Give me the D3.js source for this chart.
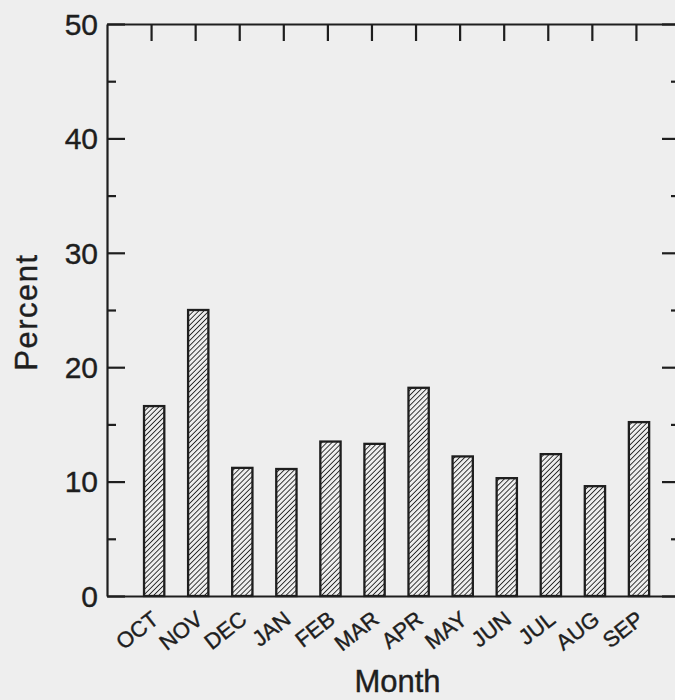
<!DOCTYPE html>
<html>
<head>
<meta charset="utf-8">
<script src="https://cdn.jsdelivr.net/npm/d3@7"></script>
<style>
  html, body { margin: 0; padding: 0; background: #eeeeee; }
  svg { display: block; }
  text { font-family: "Liberation Sans", Arial, Helvetica, sans-serif; fill: #1e1e1e; stroke: #1e1e1e; stroke-width: 0.4; }
</style>
</head>
<body>
<svg id="chart" width="675" height="700"></svg>
<script>
// Monthly share of the annual total, water-year order
const months = ["OCT", "NOV", "DEC", "JAN", "FEB", "MAR", "APR", "MAY", "JUN", "JUL", "AUG", "SEP"];
const percent = [16.6, 25.0, 11.2, 11.1, 13.5, 13.3, 18.2, 12.2, 10.3, 12.4, 9.6, 15.2];
const yMajorTicks = [0, 10, 20, 30, 40, 50];
const yMinorTicks = [5, 15, 25, 35, 45];

const svg = d3.select("#chart");
const ink = "#1e1e1e";

const plot = { left: 107, right: 680, top: 24, bottom: 596 };

// months are placed at positions 1..12 on a numeric axis
const x = d3.scaleLinear().domain([0, 13]).range([plot.left, plot.right]);
const y = d3.scaleLinear().domain([0, 50]).range([plot.bottom, plot.top]);
const barOffset = 0.07, barWidth = 0.46;

// diagonal hatch fill for the bars
const defs = svg.append("defs");
const pat = defs.append("pattern")
  .attr("id", "hatch")
  .attr("patternUnits", "userSpaceOnUse")
  .attr("width", 3.6).attr("height", 3.6)
  .attr("patternTransform", "rotate(45)");
pat.append("rect").attr("width", 3.6).attr("height", 3.6).attr("fill", "#eeeeee");
pat.append("line")
  .attr("x1", 0).attr("y1", 0).attr("x2", 0).attr("y2", 3.6)
  .attr("stroke", "#262626").attr("stroke-width", 1.8);

// bars
svg.append("g").selectAll("rect")
  .data(percent)
  .join("rect")
  .attr("x", (d, i) => x(i + 1 + barOffset - barWidth / 2))
  .attr("y", d => y(d))
  .attr("width", x(barWidth) - x(0))
  .attr("height", d => y(0) - y(d))
  .attr("fill", "url(#hatch)")
  .attr("stroke", ink)
  .attr("stroke-width", 2.3);

// frame axes: ticks point inward on every side
function styleAxis(g) {
  g.selectAll("path.domain").attr("stroke", ink).attr("stroke-width", 2.2);
  g.selectAll(".tick line").attr("stroke", ink).attr("stroke-width", 2.2);
}

const monthIdx = d3.range(1, 13);

// left axis with labels
const gLeft = svg.append("g").attr("transform", `translate(${plot.left},0)`)
  .call(d3.axisRight(y).tickValues(yMajorTicks).tickSize(18).tickSizeOuter(0).tickFormat(""));
styleAxis(gLeft);
const gLeftMinor = svg.append("g").attr("transform", `translate(${plot.left},0)`)
  .call(d3.axisRight(y).tickValues(yMinorTicks).tickSize(9).tickSizeOuter(0).tickFormat(""));
styleAxis(gLeftMinor);
gLeftMinor.select("path.domain").remove();

svg.append("g").selectAll("text")
  .data(yMajorTicks)
  .join("text")
  .attr("x", plot.left - 9)
  .attr("y", d => y(d))
  .attr("dy", "0.36em")
  .attr("text-anchor", "end")
  .attr("font-size", 30)
  .text(d => d);

// right axis
const gRight = svg.append("g").attr("transform", `translate(${plot.right},0)`)
  .call(d3.axisLeft(y).tickValues(yMajorTicks).tickSize(18).tickSizeOuter(0).tickFormat(""));
styleAxis(gRight);
const gRightMinor = svg.append("g").attr("transform", `translate(${plot.right},0)`)
  .call(d3.axisLeft(y).tickValues(yMinorTicks).tickSize(9).tickSizeOuter(0).tickFormat(""));
styleAxis(gRightMinor);
gRightMinor.select("path.domain").remove();

// top axis
const gTop = svg.append("g").attr("transform", `translate(0,${plot.top})`)
  .call(d3.axisBottom(x).tickValues(monthIdx).tickSize(17).tickSizeOuter(0).tickFormat(""));
styleAxis(gTop);

// bottom axis line
const gBottom = svg.append("g").attr("transform", `translate(0,${plot.bottom})`)
  .call(d3.axisTop(x).tickValues([]).tickSizeOuter(0));
styleAxis(gBottom);

// rotated month labels
svg.append("g").selectAll("text")
  .data(months)
  .join("text")
  .attr("text-anchor", "end")
  .attr("font-size", 22)
  .attr("transform", (d, i) => `translate(${x(i + 1 + barOffset) + 6},${plot.bottom + 26}) rotate(-38)`)
  .text(d => d);

// axis titles
svg.append("text")
  .attr("x", (plot.left + 688) / 2)
  .attr("y", 692)
  .attr("text-anchor", "middle")
  .attr("font-size", 31)
  .text("Month");

svg.append("text")
  .attr("transform", `translate(37,312) rotate(-90)`)
  .attr("text-anchor", "middle")
  .attr("font-size", 31)
  .attr("letter-spacing", 1.5)
  .text("Percent");
</script>
</body>
</html>
